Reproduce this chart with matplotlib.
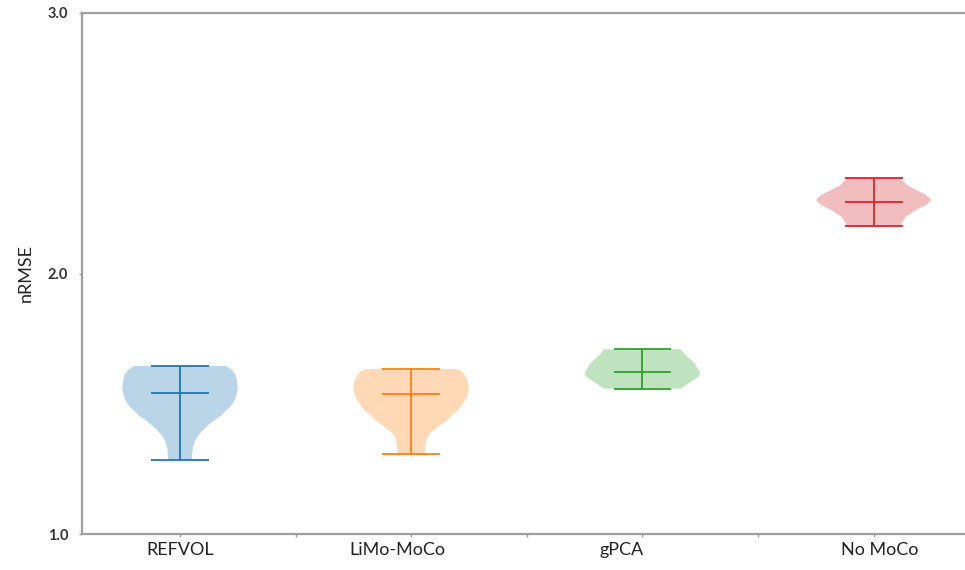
import numpy as np
import matplotlib
matplotlib.use("Agg")
import matplotlib.pyplot as plt

plt.rcParams['font.family'] = ['Lato', 'DejaVu Sans']

methods = ["REFVOL", "LiMo-MoCo", "gPCA", "No MoCo"]
colors = ["#1f77b4", "#ff7f0e", "#2ca02c", "#d62728"]

# nRMSE summary per method: min, median, max
nrmse_min = [1.284, 1.306, 1.558, 2.182]
nrmse_med = [1.541, 1.537, 1.621, 2.274]
nrmse_max = [1.645, 1.633, 1.709, 2.368]

# density profile of each violin: nRMSE value -> relative density
refvol_y = [1.284, 1.300, 1.334, 1.355, 1.372, 1.399, 1.420, 1.438, 1.457, 1.476, 1.495, 1.514, 1.540, 1.564, 1.590, 1.610, 1.630, 1.645]
refvol_d = [12, 12, 13, 15, 17, 23, 29, 35, 42, 47, 52, 55, 57, 58, 57, 56, 52, 46]
limo_y = [1.306, 1.330, 1.353, 1.370, 1.388, 1.403, 1.418, 1.437, 1.457, 1.475, 1.495, 1.520, 1.540, 1.560, 1.585, 1.610, 1.622, 1.633]
limo_d = [14, 14, 15, 16, 19, 24, 29, 36, 41, 47, 51, 55, 57, 58, 57, 54, 51, 47]
gpca_y = [1.558, 1.565, 1.575, 1.583, 1.595, 1.607, 1.618, 1.630, 1.645, 1.656, 1.670, 1.687, 1.700, 1.709]
gpca_d = [39, 42, 46, 49, 54, 58, 59, 57, 55, 53, 49, 44, 41, 39]
nomoco_y = [2.182, 2.194, 2.205, 2.217, 2.230, 2.244, 2.263, 2.282, 2.301, 2.321, 2.340, 2.350, 2.359, 2.368]
nomoco_d = [26, 27, 29, 31, 36, 41, 51, 56, 51, 41, 32, 30, 27, 29]

profiles = [(refvol_y, refvol_d), (limo_y, limo_d), (gpca_y, gpca_d), (nomoco_y, nomoco_d)]

stats = []
for (ys, ds), lo, med, hi in zip(profiles, nrmse_min, nrmse_med, nrmse_max):
    stats.append(dict(coords=np.array(ys), vals=np.array(ds, dtype=float),
                      mean=med, median=med, min=lo, max=hi))

fig = plt.figure(figsize=(9.65, 5.70), dpi=100)
ax = fig.add_axes([82 / 965, 1 - 534 / 570, 1 - 82 / 965, (534 - 13) / 570])

positions = np.arange(1, len(methods) + 1)
for st, pos, c in zip(stats, positions, colors):
    parts = ax.violin([st], positions=[pos], widths=0.5,
                      showmeans=False, showmedians=True, showextrema=True)
    for body in parts['bodies']:
        body.set_facecolor(c)
        body.set_edgecolor('none')
        body.set_alpha(0.3)
    for key in ('cbars', 'cmins', 'cmaxes', 'cmedians'):
        parts[key].set_color(c)
        parts[key].set_linewidth(1.3)

ax.set_xlim(0.576, 4.395)
ax.set_ylim(1.0, 3.0)

spine_col = "#9e9e9e"
for side in ('left', 'bottom', 'top'):
    ax.spines[side].set_color(spine_col)
    ax.spines[side].set_linewidth(1.6)
ax.spines['right'].set_visible(False)

ax.set_yticks([1.0, 2.0, 3.0])
ax.set_yticklabels(["1.0", "2.0", "3.0"], fontsize=10.5, fontweight='bold', color="#333333")
ax.tick_params(axis='y', length=2, width=1, color=spine_col, pad=8)

# tick marks every half step, category names as unmarked minor labels
ax.xaxis.remove_overlapping_locs = False
ax.set_xticks(np.arange(1.0, 4.01, 0.5))
ax.set_xticklabels([])
ax.tick_params(axis='x', which='major', length=2, width=1, color=spine_col)
label_pos = [1.0, 1.938, 2.911, 4.026]
ax.set_xticks(label_pos, minor=True)
ax.set_xticklabels(methods, minor=True, fontsize=13, color="#222222")
ax.tick_params(axis='x', which='minor', length=0, pad=6)

ax.set_ylabel("nRMSE", fontsize=13, color="#222222", labelpad=10)

fig.savefig("out.png", dpi=100)
